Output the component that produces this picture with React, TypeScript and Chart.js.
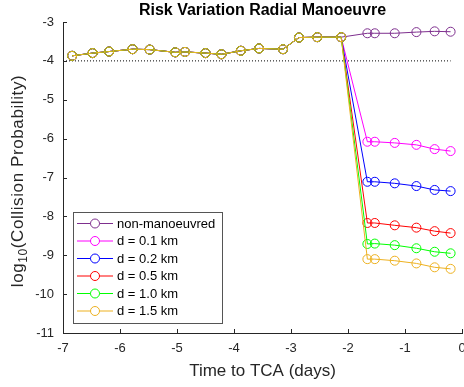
import { useEffect, useRef } from 'react';
import { Chart, registerables } from 'chart.js';

Chart.register(...registerables);

// ---- data ----
const commonTimes = [-6.84, -6.48, -6.19, -5.78, -5.48, -5.03, -4.86, -4.5, -4.22, -3.88, -3.56, -3.14, -2.86, -2.54, -2.12];
const commonValues = [-3.87, -3.8, -3.76, -3.7, -3.71, -3.78, -3.77, -3.8, -3.83, -3.74, -3.68, -3.7, -3.4, -3.39, -3.39];
const tailTimes = [-1.66, -1.53, -1.18, -0.8, -0.48, -0.2];
const nonManoeuvred = [-3.29, -3.29, -3.29, -3.26, -3.24, -3.25];
const d01 = [-6.08, -6.08, -6.11, -6.16, -6.27, -6.32];
const d02 = [-7.11, -7.11, -7.15, -7.22, -7.32, -7.35];
const d05 = [-8.17, -8.17, -8.23, -8.29, -8.38, -8.43];
const d10 = [-8.71, -8.7, -8.74, -8.82, -8.91, -8.95];
const d15 = [-9.1, -9.1, -9.14, -9.21, -9.31, -9.35];
const seriesTails = [nonManoeuvred, d01, d02, d05, d10, d15];
const seriesLabels = ['non-manoeuvred', 'd = 0.1 km', 'd = 0.2 km', 'd = 0.5 km', 'd = 1.0 km', 'd = 1.5 km'];
const seriesColors = ['#7E2F8E', '#FF00FF', '#0000FF', '#FF0000', '#00FF00', '#EDB120'];
const thresholdX = [-7, -0.2];
const thresholdY = [-4, -4];
const xTickValues = [-7, -6, -5, -4, -3, -2, -1, 0];
const yTickValues = [-11, -10, -9, -8, -7, -6, -5, -4, -3];
const titleText = 'Risk Variation Radial Manoeuvre';
const xTitleText = 'Time to TCA (days)';

const FONT = '"Liberation Sans", Arial, sans-serif';
const AXIS = '#262626';

const decor = {
  id: 'decor',
  afterDraw(chart: any) {
    const { ctx, chartArea: a, scales } = chart;
    const x = scales.x;
    const y = scales.y;
    ctx.save();
    ctx.strokeStyle = AXIS;
    ctx.lineWidth = 1;
    for (const v of xTickValues) {
      const px = Math.round(x.getPixelForValue(v)) + 0.5;
      ctx.beginPath();
      ctx.moveTo(px, a.bottom);
      ctx.lineTo(px, a.bottom - 4);
      ctx.stroke();
    }
    for (const v of yTickValues) {
      const py = Math.round(y.getPixelForValue(v)) + 0.5;
      ctx.beginPath();
      ctx.moveTo(a.left, py);
      ctx.lineTo(a.left + 4, py);
      ctx.stroke();
    }
    const cx = (a.left + a.right) / 2;
    // title
    ctx.fillStyle = '#000';
    ctx.font = `bold 16px ${FONT}`;
    ctx.textAlign = 'center';
    ctx.textBaseline = 'middle';
    ctx.fillText(titleText, cx, 11);
    // x title
    ctx.fillStyle = AXIS;
    ctx.font = `17px ${FONT}`;
    ctx.fillText(xTitleText, cx, 371);
    // y title with subscript
    ctx.save();
    ctx.translate(17, 181);
    ctx.rotate(-Math.PI / 2);
    ctx.textAlign = 'left';
    ctx.textBaseline = 'alphabetic';
    (ctx as any).letterSpacing = '0.6px';
    const p1 = 'log';
    const p2 = '10';
    const p3 = '(Collision Probability)';
    ctx.font = `17px ${FONT}`;
    const w1 = ctx.measureText(p1).width;
    const w3 = ctx.measureText(p3).width;
    ctx.font = `12px ${FONT}`;
    const w2 = ctx.measureText(p2).width;
    const total = w1 + w2 + w3;
    let sx = -total / 2;
    const base = 6;
    ctx.font = `17px ${FONT}`;
    ctx.fillText(p1, sx, base);
    sx += w1;
    ctx.font = `12px ${FONT}`;
    ctx.fillText(p2, sx, base + 4);
    sx += w2;
    ctx.font = `17px ${FONT}`;
    ctx.fillText(p3, sx, base);
    ctx.restore();
    // legend
    const lx0 = 73, ly0 = 212, lx1 = 222, ly1 = 323;
    ctx.fillStyle = '#fff';
    ctx.fillRect(lx0, ly0, lx1 - lx0, ly1 - ly0);
    ctx.strokeStyle = '#555';
    ctx.lineWidth = 1;
    ctx.strokeRect(lx0 + 0.5, ly0 + 0.5, lx1 - lx0, ly1 - ly0);
    ctx.font = `13px ${FONT}`;
    ctx.textAlign = 'left';
    ctx.textBaseline = 'middle';
    seriesLabels.forEach((lab, i) => {
      const ry = 223.5 + i * 17.5;
      ctx.strokeStyle = seriesColors[i];
      ctx.beginPath();
      ctx.moveTo(77, ry);
      ctx.lineTo(113, ry);
      ctx.stroke();
      ctx.beginPath();
      ctx.fillStyle = '#fff';
      ctx.arc(95, ry, 4.5, 0, Math.PI * 2);
      ctx.fill();
      ctx.stroke();
      ctx.fillStyle = '#000';
      ctx.fillText(lab, 117, ry + 0.5);
    });
    ctx.restore();
  },
};

export default function App() {
  const ref = useRef<HTMLCanvasElement | null>(null);
  useEffect(() => {
    if (!ref.current) return;
    const datasets: any[] = seriesTails.map((tail, i) => ({
      label: seriesLabels[i],
      data: commonTimes
        .map((t, k) => ({ x: t, y: commonValues[k] }))
        .concat(tailTimes.map((t, k) => ({ x: t, y: tail[k] }))),
      borderColor: seriesColors[i],
      pointBorderColor: seriesColors[i],
      pointBackgroundColor: 'rgba(0,0,0,0)',
      borderWidth: 1,
      pointRadius: 4.5,
      pointBorderWidth: 1,
      pointStyle: 'circle',
      tension: 0,
      fill: false,
      order: 10 - i,
    }));
    datasets.push({
      label: 'threshold',
      data: thresholdX.map((t, k) => ({ x: t, y: thresholdY[k] })),
      borderColor: '#000',
      borderWidth: 1,
      borderDash: [1, 2],
      pointRadius: 0,
      fill: false,
      order: 20,
    });
    const tickFont = { family: FONT, size: 13 };
    const chart = new Chart(ref.current, {
      type: 'line',
      data: { datasets },
      plugins: [decor],
      options: {
        animation: false,
        responsive: false,
        maintainAspectRatio: false,
        layout: { autoPadding: false, padding: { top: 22, right: 2, left: 0, bottom: 0 } },
        plugins: { legend: { display: false }, tooltip: { enabled: false }, title: { display: false } },
        scales: {
          x: {
            type: 'linear',
            min: -7,
            max: 0,
            afterBuildTicks: (s: any) => { s.ticks = xTickValues.map((v) => ({ value: v })); },
            afterFit: (s: any) => { s.height = 54; s.paddingLeft = 0; s.paddingRight = 0; },
            ticks: { font: tickFont, color: AXIS, padding: 8, maxRotation: 0, autoSkip: false },
            grid: { display: false, drawTicks: false },
            border: { display: true, color: AXIS, width: 1 },
          },
          y: {
            type: 'linear',
            min: -11,
            max: -3,
            afterBuildTicks: (s: any) => { s.ticks = yTickValues.map((v) => ({ value: v })); },
            afterFit: (s: any) => { s.width = 63; s.paddingTop = 0; s.paddingBottom = 0; },
            ticks: { font: tickFont, color: AXIS, padding: 9, autoSkip: false },
            grid: { display: false, drawTicks: false },
            border: { display: true, color: AXIS, width: 1 },
          },
        },
      },
    } as any);
    return () => chart.destroy();
  }, []);
  return (
    <div style={{ position: 'fixed', left: 0, top: 0, width: 464, height: 387, background: '#fff' }}>
      <canvas ref={ref} width={464} height={387} style={{ display: 'block' }} />
    </div>
  );
}
